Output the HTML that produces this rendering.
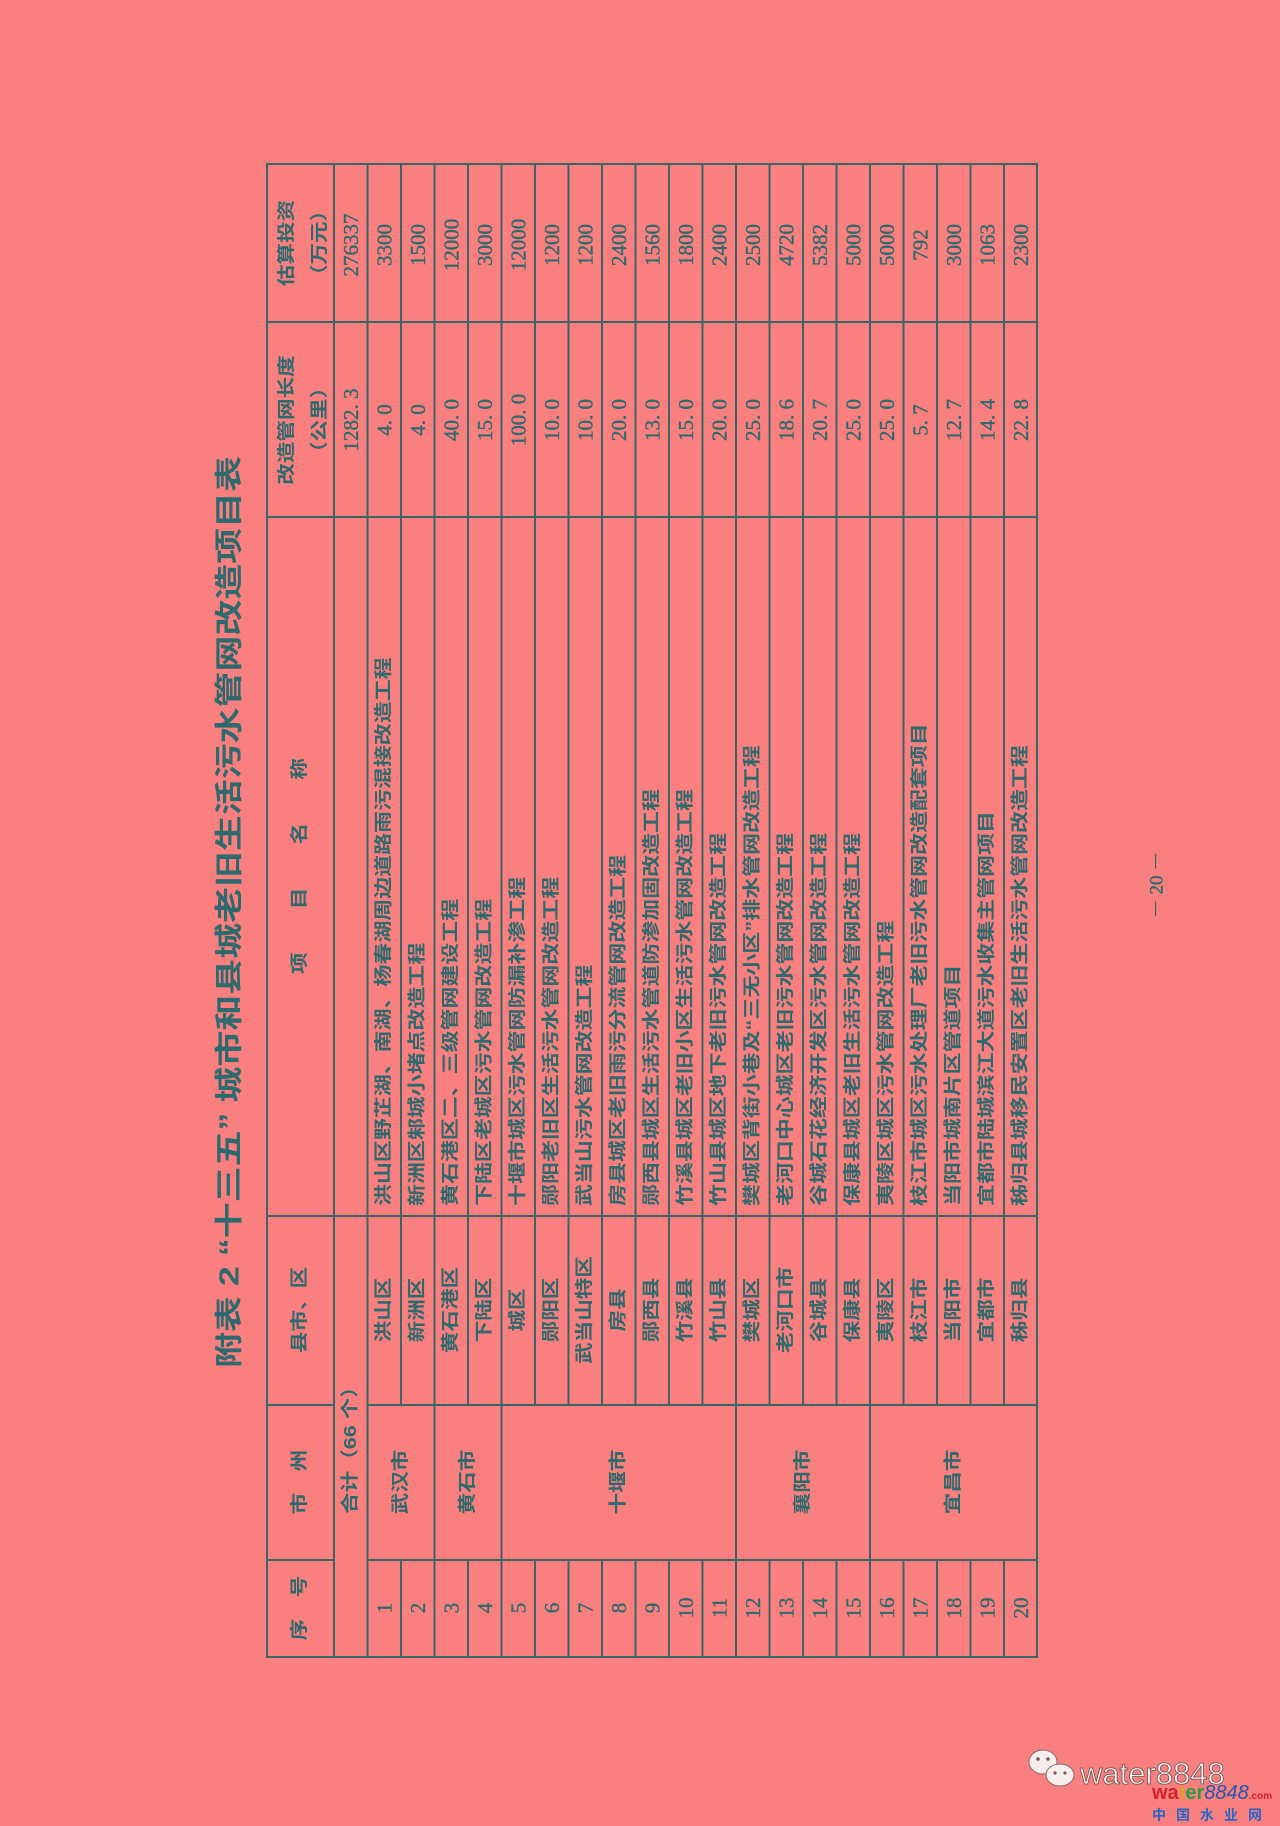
<!DOCTYPE html>
<html><head><meta charset="utf-8"><style>
html,body{margin:0;padding:0;background:#fa7f7f;}
svg{display:block;}
.c{font-family:"Liberation Sans","Noto Sans CJK SC",sans-serif;fill:#2d6a6d;font-size:18px;font-weight:bold;}
.n{font-family:"Liberation Serif","Noto Serif CJK SC",serif;fill:#2d6a6d;font-size:21px;stroke:#2d6a6d;stroke-width:0.4;}
</style></head><body>
<svg width="1280" height="1826" viewBox="0 0 1280 1826" xmlns="http://www.w3.org/2000/svg">
<rect width="1280" height="1826" fill="#fa7f7f"/>
<g stroke="#3a6466" stroke-width="2" fill="none">
<rect x="267" y="164" width="770" height="1493"/>
<line x1="267" y1="322" x2="1037" y2="322"/>
<line x1="267" y1="517" x2="1037" y2="517"/>
<line x1="267" y1="1216" x2="1037" y2="1216"/>
<line x1="267" y1="1405" x2="334" y2="1405"/><line x1="367.5" y1="1405" x2="1037" y2="1405"/>
<line x1="267" y1="1560" x2="334" y2="1560"/><line x1="367.5" y1="1560" x2="1037" y2="1560"/>
<line x1="334" y1="164" x2="334" y2="1657"/>
<line x1="367.5" y1="164" x2="367.5" y2="1657"/>
<line x1="401" y1="164" x2="401" y2="1405"/><line x1="401" y1="1560" x2="401" y2="1657"/>
<line x1="434.5" y1="164" x2="434.5" y2="1657"/>
<line x1="468" y1="164" x2="468" y2="1405"/><line x1="468" y1="1560" x2="468" y2="1657"/>
<line x1="501.5" y1="164" x2="501.5" y2="1657"/>
<line x1="535" y1="164" x2="535" y2="1405"/><line x1="535" y1="1560" x2="535" y2="1657"/>
<line x1="568.5" y1="164" x2="568.5" y2="1405"/><line x1="568.5" y1="1560" x2="568.5" y2="1657"/>
<line x1="602" y1="164" x2="602" y2="1405"/><line x1="602" y1="1560" x2="602" y2="1657"/>
<line x1="635.5" y1="164" x2="635.5" y2="1405"/><line x1="635.5" y1="1560" x2="635.5" y2="1657"/>
<line x1="669" y1="164" x2="669" y2="1405"/><line x1="669" y1="1560" x2="669" y2="1657"/>
<line x1="702.5" y1="164" x2="702.5" y2="1405"/><line x1="702.5" y1="1560" x2="702.5" y2="1657"/>
<line x1="736" y1="164" x2="736" y2="1657"/>
<line x1="769.5" y1="164" x2="769.5" y2="1405"/><line x1="769.5" y1="1560" x2="769.5" y2="1657"/>
<line x1="803" y1="164" x2="803" y2="1405"/><line x1="803" y1="1560" x2="803" y2="1657"/>
<line x1="836.5" y1="164" x2="836.5" y2="1405"/><line x1="836.5" y1="1560" x2="836.5" y2="1657"/>
<line x1="870" y1="164" x2="870" y2="1657"/>
<line x1="903.5" y1="164" x2="903.5" y2="1405"/><line x1="903.5" y1="1560" x2="903.5" y2="1657"/>
<line x1="937" y1="164" x2="937" y2="1405"/><line x1="937" y1="1560" x2="937" y2="1657"/>
<line x1="970.5" y1="164" x2="970.5" y2="1405"/><line x1="970.5" y1="1560" x2="970.5" y2="1657"/>
<line x1="1004" y1="164" x2="1004" y2="1405"/><line x1="1004" y1="1560" x2="1004" y2="1657"/>
</g>

<!-- title -->
<text class="c" style="font-size:28px" text-anchor="start" dominant-baseline="central" textLength="912" lengthAdjust="spacingAndGlyphs" transform="translate(229,1368) rotate(-90)">附表 2 “十三五” 城市和县城老旧生活污水管网改造项目表</text>
<text class="n" style="font-size:19px" text-anchor="middle" dominant-baseline="central" transform="translate(1157,885) rotate(-90)">－ 20 －</text>

<!-- headers -->
<g class="c" text-anchor="middle" dominant-baseline="central">
<text transform="translate(287,243) rotate(-90) scale(1.2,1)">估算投资</text>
<text transform="translate(320,243) rotate(-90) scale(1.2,1)">（万元）</text>
<text transform="translate(287,420) rotate(-90) scale(1.2,1)">改造管网长度</text>
<text transform="translate(320,420) rotate(-90) scale(1.2,1)">（公里）</text>
<text transform="translate(300,866) rotate(-90) scale(1.2,1)">项　　目　　名　　称</text>
<text transform="translate(300,1310) rotate(-90) scale(1.2,1)">县市、区</text>
<text transform="translate(300,1482) rotate(-90) scale(1.2,1)">市　州</text>
<text transform="translate(300,1608) rotate(-90) scale(1.2,1)">序　号</text>
<text transform="translate(350.75,1445) rotate(-90) scale(1.2,1)">合计（66 个）</text>
<text transform="translate(401,1482) rotate(-90) scale(1.2,1)">武汉市</text>
<text transform="translate(468,1482) rotate(-90) scale(1.2,1)">黄石市</text>
<text transform="translate(618.75,1482) rotate(-90) scale(1.2,1)">十堰市</text>
<text transform="translate(803,1482) rotate(-90) scale(1.2,1)">襄阳市</text>
<text transform="translate(953.5,1482) rotate(-90) scale(1.2,1)">宜昌市</text>
<text transform="translate(384.25,1310) rotate(-90) scale(1.2,1)">洪山区</text>
<text transform="translate(417.75,1310) rotate(-90) scale(1.2,1)">新洲区</text>
<text transform="translate(451.25,1310) rotate(-90) scale(1.2,1)">黄石港区</text>
<text transform="translate(484.75,1310) rotate(-90) scale(1.2,1)">下陆区</text>
<text transform="translate(518.25,1310) rotate(-90) scale(1.2,1)">城区</text>
<text transform="translate(551.75,1310) rotate(-90) scale(1.2,1)">郧阳区</text>
<text transform="translate(585.25,1310) rotate(-90) scale(1.2,1)">武当山特区</text>
<text transform="translate(618.75,1310) rotate(-90) scale(1.2,1)">房县</text>
<text transform="translate(652.25,1310) rotate(-90) scale(1.2,1)">郧西县</text>
<text transform="translate(685.75,1310) rotate(-90) scale(1.2,1)">竹溪县</text>
<text transform="translate(719.25,1310) rotate(-90) scale(1.2,1)">竹山县</text>
<text transform="translate(752.75,1310) rotate(-90) scale(1.2,1)">樊城区</text>
<text transform="translate(786.25,1310) rotate(-90) scale(1.2,1)">老河口市</text>
<text transform="translate(819.75,1310) rotate(-90) scale(1.2,1)">谷城县</text>
<text transform="translate(853.25,1310) rotate(-90) scale(1.2,1)">保康县</text>
<text transform="translate(886.75,1310) rotate(-90) scale(1.2,1)">夷陵区</text>
<text transform="translate(920.25,1310) rotate(-90) scale(1.2,1)">枝江市</text>
<text transform="translate(953.75,1310) rotate(-90) scale(1.2,1)">当阳市</text>
<text transform="translate(987.25,1310) rotate(-90) scale(1.2,1)">宜都市</text>
<text transform="translate(1020.75,1310) rotate(-90) scale(1.2,1)">秭归县</text>
</g>

<!-- project names -->
<g class="c" text-anchor="start" dominant-baseline="central">
<text transform="translate(384.25,1206) rotate(-90) scale(1.22,1)">洪山区野芷湖、南湖、杨春湖周边道路雨污混接改造工程</text>
<text transform="translate(417.75,1206) rotate(-90) scale(1.22,1)">新洲区邾城小堵点改造工程</text>
<text transform="translate(451.25,1206) rotate(-90) scale(1.22,1)">黄石港区二、三级管网建设工程</text>
<text transform="translate(484.75,1206) rotate(-90) scale(1.22,1)">下陆区老城区污水管网改造工程</text>
<text transform="translate(518.25,1206) rotate(-90) scale(1.22,1)">十堰市城区污水管网防漏补渗工程</text>
<text transform="translate(551.75,1206) rotate(-90) scale(1.22,1)">郧阳老旧区生活污水管网改造工程</text>
<text transform="translate(585.25,1206) rotate(-90) scale(1.22,1)">武当山污水管网改造工程</text>
<text transform="translate(618.75,1206) rotate(-90) scale(1.22,1)">房县城区老旧雨污分流管网改造工程</text>
<text transform="translate(652.25,1206) rotate(-90) scale(1.22,1)">郧西县城区生活污水管道防渗加固改造工程</text>
<text transform="translate(685.75,1206) rotate(-90) scale(1.22,1)">竹溪县城区老旧小区生活污水管网改造工程</text>
<text transform="translate(719.25,1206) rotate(-90) scale(1.22,1)">竹山县城区地下老旧污水管网改造工程</text>
<text transform="translate(752.75,1206) rotate(-90) scale(1.22,1)">樊城区背街小巷及“三无小区”排水管网改造工程</text>
<text transform="translate(786.25,1206) rotate(-90) scale(1.22,1)">老河口中心城区老旧污水管网改造工程</text>
<text transform="translate(819.75,1206) rotate(-90) scale(1.22,1)">谷城石花经济开发区污水管网改造工程</text>
<text transform="translate(853.25,1206) rotate(-90) scale(1.22,1)">保康县城区老旧生活污水管网改造工程</text>
<text transform="translate(886.75,1206) rotate(-90) scale(1.22,1)">夷陵区城区污水管网改造工程</text>
<text transform="translate(920.25,1206) rotate(-90) scale(1.22,1)">枝江市城区污水处理厂老旧污水管网改造配套项目</text>
<text transform="translate(953.75,1206) rotate(-90) scale(1.22,1)">当阳市城南片区管道项目</text>
<text transform="translate(987.25,1206) rotate(-90) scale(1.22,1)">宜都市陆城滨江大道污水收集主管网项目</text>
<text transform="translate(1020.75,1206) rotate(-90) scale(1.22,1)">秭归县城移民安置区老旧生活污水管网改造工程</text>
</g>

<!-- numbers -->
<g class="n" text-anchor="middle" dominant-baseline="central">
<text transform="translate(384.25,1608) rotate(-90)">1</text>
<text transform="translate(417.75,1608) rotate(-90)">2</text>
<text transform="translate(451.25,1608) rotate(-90)">3</text>
<text transform="translate(484.75,1608) rotate(-90)">4</text>
<text transform="translate(518.25,1608) rotate(-90)">5</text>
<text transform="translate(551.75,1608) rotate(-90)">6</text>
<text transform="translate(585.25,1608) rotate(-90)">7</text>
<text transform="translate(618.75,1608) rotate(-90)">8</text>
<text transform="translate(652.25,1608) rotate(-90)">9</text>
<text transform="translate(685.75,1608) rotate(-90)">10</text>
<text transform="translate(719.25,1608) rotate(-90)">11</text>
<text transform="translate(752.75,1608) rotate(-90)">12</text>
<text transform="translate(786.25,1608) rotate(-90)">13</text>
<text transform="translate(819.75,1608) rotate(-90)">14</text>
<text transform="translate(853.25,1608) rotate(-90)">15</text>
<text transform="translate(886.75,1608) rotate(-90)">16</text>
<text transform="translate(920.25,1608) rotate(-90)">17</text>
<text transform="translate(953.75,1608) rotate(-90)">18</text>
<text transform="translate(987.25,1608) rotate(-90)">19</text>
<text transform="translate(1020.75,1608) rotate(-90)">20</text>

<text transform="translate(350.75,420) rotate(-90)">1282. 3</text>
<text transform="translate(384.25,420) rotate(-90)">4. 0</text>
<text transform="translate(417.75,420) rotate(-90)">4. 0</text>
<text transform="translate(451.25,420) rotate(-90)">40. 0</text>
<text transform="translate(484.75,420) rotate(-90)">15. 0</text>
<text transform="translate(518.25,420) rotate(-90)">100. 0</text>
<text transform="translate(551.75,420) rotate(-90)">10. 0</text>
<text transform="translate(585.25,420) rotate(-90)">10. 0</text>
<text transform="translate(618.75,420) rotate(-90)">20. 0</text>
<text transform="translate(652.25,420) rotate(-90)">13. 0</text>
<text transform="translate(685.75,420) rotate(-90)">15. 0</text>
<text transform="translate(719.25,420) rotate(-90)">20. 0</text>
<text transform="translate(752.75,420) rotate(-90)">25. 0</text>
<text transform="translate(786.25,420) rotate(-90)">18. 6</text>
<text transform="translate(819.75,420) rotate(-90)">20. 7</text>
<text transform="translate(853.25,420) rotate(-90)">25. 0</text>
<text transform="translate(886.75,420) rotate(-90)">25. 0</text>
<text transform="translate(920.25,420) rotate(-90)">5. 7</text>
<text transform="translate(953.75,420) rotate(-90)">12. 7</text>
<text transform="translate(987.25,420) rotate(-90)">14. 4</text>
<text transform="translate(1020.75,420) rotate(-90)">22. 8</text>

<text transform="translate(350.75,245) rotate(-90)">276337</text>
<text transform="translate(384.25,245) rotate(-90)">3300</text>
<text transform="translate(417.75,245) rotate(-90)">1500</text>
<text transform="translate(451.25,245) rotate(-90)">12000</text>
<text transform="translate(484.75,245) rotate(-90)">3000</text>
<text transform="translate(518.25,245) rotate(-90)">12000</text>
<text transform="translate(551.75,245) rotate(-90)">1200</text>
<text transform="translate(585.25,245) rotate(-90)">1200</text>
<text transform="translate(618.75,245) rotate(-90)">2400</text>
<text transform="translate(652.25,245) rotate(-90)">1560</text>
<text transform="translate(685.75,245) rotate(-90)">1800</text>
<text transform="translate(719.25,245) rotate(-90)">2400</text>
<text transform="translate(752.75,245) rotate(-90)">2500</text>
<text transform="translate(786.25,245) rotate(-90)">4720</text>
<text transform="translate(819.75,245) rotate(-90)">5382</text>
<text transform="translate(853.25,245) rotate(-90)">5000</text>
<text transform="translate(886.75,245) rotate(-90)">5000</text>
<text transform="translate(920.25,245) rotate(-90)">792</text>
<text transform="translate(953.75,245) rotate(-90)">3000</text>
<text transform="translate(987.25,245) rotate(-90)">1063</text>
<text transform="translate(1020.75,245) rotate(-90)">2300</text>
</g>

<!-- watermark -->
<g>
<ellipse cx="1043" cy="1762" rx="14" ry="12" fill="#f6eeee" stroke="#8a6a6a" stroke-width="1"/>
<ellipse cx="1060" cy="1775" rx="14" ry="11" fill="#f6eeee" stroke="#8a6a6a" stroke-width="1"/>
<circle cx="1038" cy="1759" r="1.8" fill="#7a5a5a"/><circle cx="1048" cy="1759" r="1.8" fill="#7a5a5a"/>
<circle cx="1055" cy="1773" r="1.6" fill="#7a5a5a"/><circle cx="1065" cy="1773" r="1.6" fill="#7a5a5a"/>
<text x="1080" y="1784" font-family="Liberation Sans, sans-serif" font-size="31" fill="#f7f0f0" stroke="#6a5050" stroke-width="0.8">water8848</text>
<text x="1152" y="1799" font-family="Liberation Sans, sans-serif" font-size="20" font-weight="bold" fill="#d3202a">wa<tspan fill="#e0a020">t</tspan><tspan fill="#2a9a3a">er</tspan><tspan fill="#2855b0" font-style="italic" font-weight="normal">8848</tspan><tspan fill="#d3202a" font-size="10">.com</tspan></text>
<text x="1152" y="1820" font-family="Liberation Sans, 'Noto Sans CJK SC', sans-serif" font-size="14" font-weight="bold" fill="#2a66c8" letter-spacing="10">中国水业网</text>
</g>
</svg>
</body></html>
